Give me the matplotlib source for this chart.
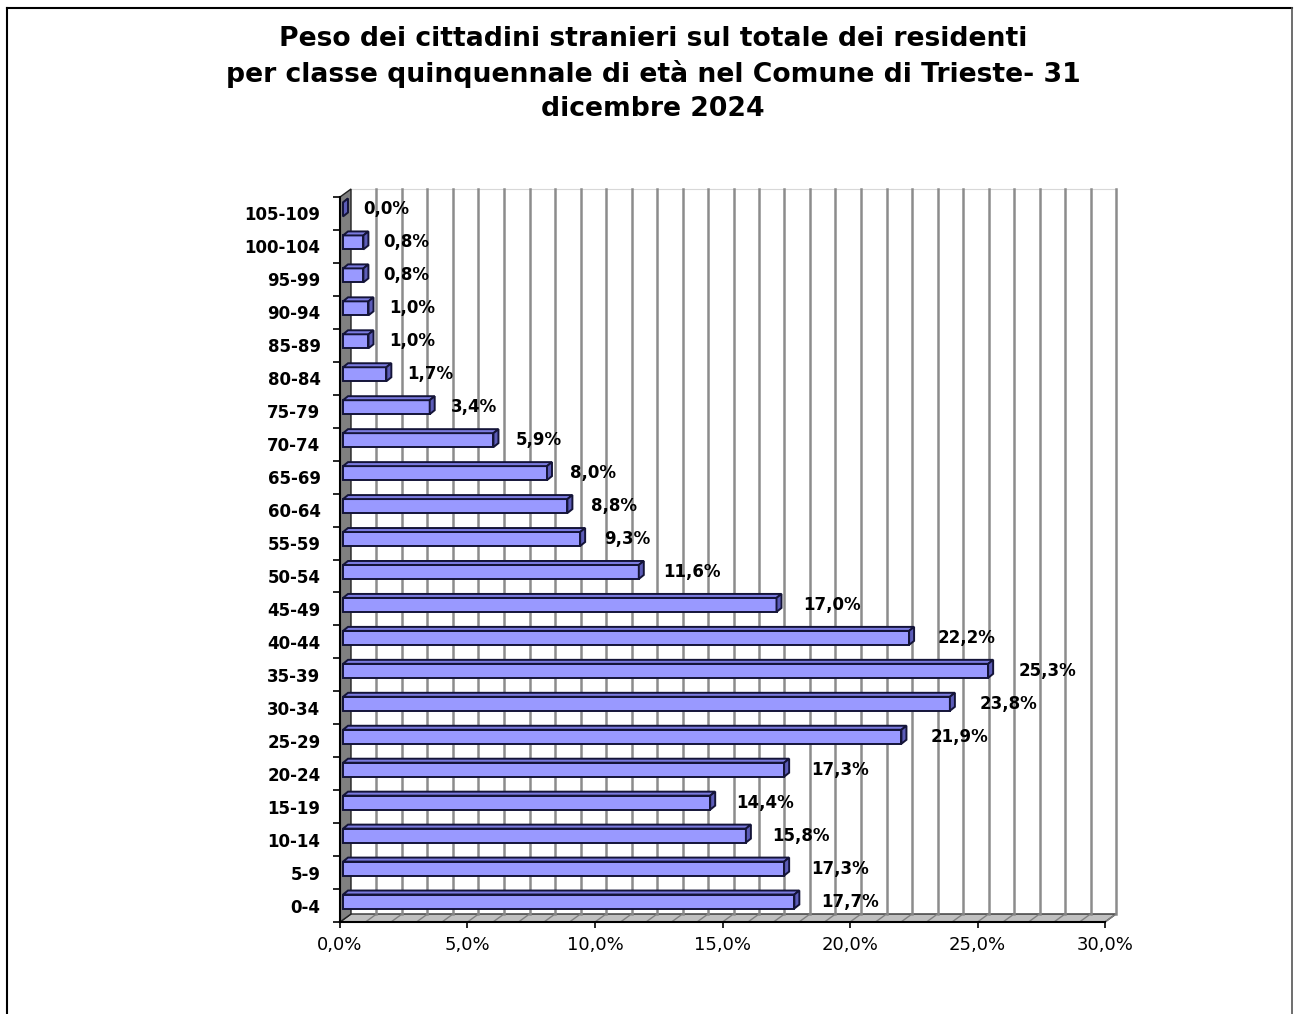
import matplotlib
matplotlib.use("Agg")
import matplotlib.pyplot as plt
from matplotlib.patches import Polygon
from matplotlib.lines import Line2D

plt.rcParams['font.family'] = ['DejaVu Sans']

# ---- data (bottom to top) ----
categories = ["0-4", "5-9", "10-14", "15-19", "20-24", "25-29", "30-34", "35-39",
              "40-44", "45-49", "50-54", "55-59", "60-64", "65-69", "70-74", "75-79",
              "80-84", "85-89", "90-94", "95-99", "100-104", "105-109"]
values = [17.7, 17.3, 15.8, 14.4, 17.3, 21.9, 23.8, 25.3, 22.2, 17.0, 11.6, 9.3,
          8.8, 8.0, 5.9, 3.4, 1.7, 1.0, 1.0, 0.8, 0.8, 0.0]
xticks = [0, 5, 10, 15, 20, 25, 30]
xtick_labels = ["0,0%", "5,0%", "10,0%", "15,0%", "20,0%", "25,0%", "30,0%"]
title = ("Peso dei cittadini stranieri sul totale dei residenti\n"
         "per classe quinquennale di età nel Comune di Trieste- 31\n"
         "dicembre 2024")

W, H = 1295, 1014
fig = plt.figure(figsize=(W / 100, H / 100), dpi=100)

# front plane of the plot area (pixels from top-left)
L, R, T, B = 340, 1105, 197, 922
ax = fig.add_axes([L / W, 1 - B / H, (R - L) / W, (B - T) / H])
n = len(categories)
xmax = 30
ax.set_xlim(0, xmax)
ax.set_ylim(-0.5, n - 0.5)

pxx = (R - L) / xmax          # pixels per x unit
pxy = (B - T) / n             # pixels per category


def dxp(p):
    return p / pxx


def dyp(p):
    return p / pxy


# depth of walls
wdx, wdy = dxp(11), dyp(8)
y0, y1 = -0.5, n - 0.5

# floor
floor = Polygon([(0, y0), (xmax, y0), (xmax + wdx, y0 + wdy), (wdx, y0 + wdy)],
                closed=True, facecolor="#c0c0c0", edgecolor="#303030", lw=1.0,
                clip_on=False, zorder=1)
ax.add_patch(floor)
for i in range(1, xmax + 1):
    ax.add_line(Line2D([i + wdx, i], [y0 + wdy, y0], color="#808080", lw=1.0,
                       clip_on=False, zorder=1.5))

# back gridlines
for i in range(1, xmax + 1):
    ax.add_line(Line2D([i + wdx, i + wdx], [y0 + wdy, y1 + wdy], color="#8c8c8c",
                       lw=1.8, clip_on=False, zorder=1.2))
ax.add_line(Line2D([wdx, xmax + wdx], [y1 + wdy, y1 + wdy], color="#d8d8d8",
                   lw=0.8, clip_on=False, zorder=1.1))

# left wall
wall = Polygon([(0, y0), (0, y1), (wdx, y1 + wdy), (wdx, y0 + wdy)], closed=True,
               facecolor="#808080", edgecolor="#202020", lw=1.0, clip_on=False,
               zorder=2)
ax.add_patch(wall)

# bars (3D look)
bh = dyp(14)
bx0 = dxp(3)
bshift = dyp(4)
bdx, bdy = dxp(5), dyp(4)
edge = "#141438"
for i, v in enumerate(values):
    yc = i + bshift
    yb, yt = yc - bh / 2, yc + bh / 2
    xe = bx0 + v
    ax.barh(yc, v, left=bx0, height=bh, color="#9999ff", edgecolor=edge,
            linewidth=1.4, zorder=3)
    top = Polygon([(bx0, yt), (xe, yt), (xe + bdx, yt + bdy), (bx0 + bdx, yt + bdy)],
                  closed=True, facecolor="#7b7be0", edgecolor=edge, lw=1.4,
                  zorder=3, clip_on=False)
    side = Polygon([(xe, yb), (xe, yt), (xe + bdx, yt + bdy), (xe + bdx, yb + bdy)],
                   closed=True, facecolor="#5c5cb8", edgecolor=edge, lw=1.4,
                   zorder=3, clip_on=False)
    ax.add_patch(top)
    ax.add_patch(side)
    lab = f"{v:.1f}%".replace(".", ",")
    ax.text(xe + dxp(20 + 0.4 * v), yc, lab, ha="left", va="center", fontsize=12,
            fontweight="bold", color="black", zorder=4, clip_on=False)

# axes styling
for s in ("top", "right"):
    ax.spines[s].set_visible(False)
for s in ("left", "bottom"):
    ax.spines[s].set_color("black")
    ax.spines[s].set_linewidth(1.5)
    ax.spines[s].set_zorder(5)

ax.set_xticks(xticks)
ax.set_xticklabels(xtick_labels, fontsize=13)
ax.tick_params(axis="x", direction="out", length=4, width=1.2, pad=6, colors="black")

ax.set_yticks(range(n))
ax.set_yticklabels(categories, fontsize=12, fontweight="bold")
ax.set_yticks([k - 0.5 for k in range(n + 1)], minor=True)
ax.tick_params(axis="y", which="major", length=0, pad=14)
ax.tick_params(axis="y", which="minor", length=5, width=1.2, direction="out")
ax.set_facecolor("none")

# title
fig.text(653 / W, 1 - 26 / H, title, ha="center", va="top", fontsize=19.2,
         fontweight="bold", linespacing=1.38)

# outer border
fig.add_artist(Line2D([7 / W, 7 / W], [0, 1 - 8 / H], color="black", lw=1.5,
                      transform=fig.transFigure))
fig.add_artist(Line2D([7 / W, 1292 / W], [1 - 8 / H, 1 - 8 / H], color="black",
                      lw=1.5, transform=fig.transFigure))
fig.add_artist(Line2D([1292 / W, 1292 / W], [0, 1 - 8 / H], color="#555555",
                      lw=1.2, transform=fig.transFigure))

fig.savefig("out.png", dpi=100, facecolor="white")
